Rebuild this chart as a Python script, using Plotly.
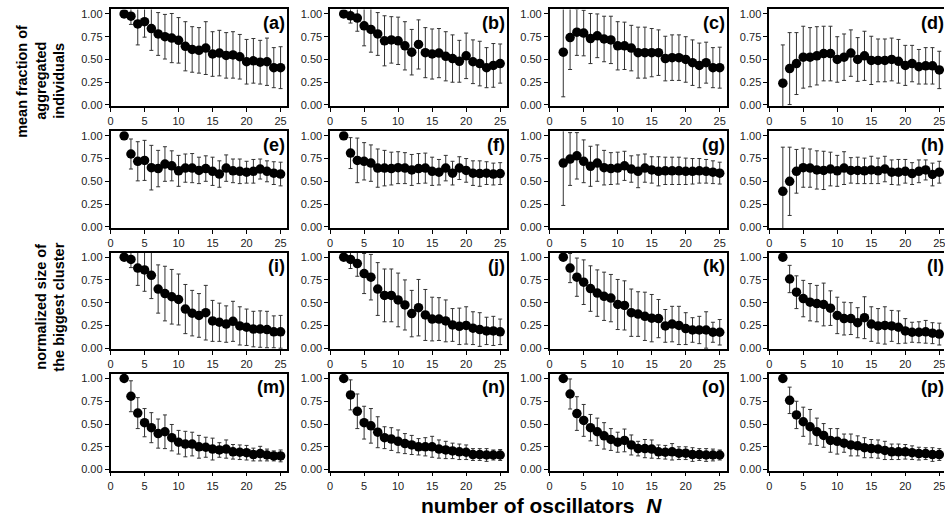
import plotly.graph_objects as go

N = list(range(2, 26))
x_ticks = [0, 5, 10, 15, 20, 25]
x_tick_labels = ["0", "5", "10", "15", "20", "25"]
y_ticks = [0, 0.25, 0.5, 0.75, 1.0]
y_tick_labels = ["0.00", "0.25", "0.50", "0.75", "1.00"]
panel_labels = ["(a)", "(b)", "(c)", "(d)", "(e)", "(f)", "(g)", "(h)",
                "(i)", "(j)", "(k)", "(l)", "(m)", "(n)", "(o)", "(p)"]
title_top_lines = ["mean fraction of", "aggregated", "individuals"]
title_bottom_lines = ["normalized size of", "the biggest cluster"]
x_title = "number of oscillators  <i>N</i>"

a_y = [1.00,0.975,0.89,0.915,0.84,0.78,0.75,0.735,0.71,0.645,0.61,0.60,0.625,0.56,0.57,0.545,0.55,0.53,0.475,0.485,0.47,0.475,0.41,0.41]
a_e = [0,0.09,0.23,0.17,0.24,0.235,0.245,0.27,0.25,0.27,0.25,0.25,0.29,0.245,0.25,0.25,0.255,0.245,0.245,0.245,0.24,0.26,0.22,0.23]
b_y = [1.00,0.98,0.955,0.87,0.83,0.78,0.705,0.715,0.705,0.65,0.58,0.665,0.575,0.56,0.57,0.535,0.51,0.48,0.54,0.475,0.455,0.41,0.435,0.455]
b_e = [0,0.08,0.145,0.22,0.25,0.235,0.275,0.255,0.26,0.265,0.25,0.27,0.275,0.275,0.27,0.27,0.26,0.23,0.25,0.24,0.245,0.22,0.24,0.215]
c_y = [0.58,0.74,0.80,0.79,0.73,0.76,0.725,0.715,0.65,0.65,0.625,0.575,0.575,0.575,0.575,0.51,0.52,0.52,0.50,0.465,0.435,0.465,0.41,0.41]
c_e = [0.49,0.35,0.255,0.25,0.275,0.24,0.25,0.26,0.265,0.26,0.25,0.28,0.28,0.265,0.25,0.245,0.25,0.25,0.25,0.25,0.245,0.225,0.22,0.225]
d_y = [0.24,0.40,0.455,0.525,0.525,0.54,0.565,0.565,0.50,0.525,0.57,0.50,0.54,0.49,0.49,0.49,0.50,0.48,0.435,0.455,0.42,0.43,0.43,0.385]
d_e = [0.42,0.395,0.34,0.34,0.325,0.32,0.30,0.30,0.25,0.255,0.255,0.24,0.27,0.265,0.235,0.235,0.235,0.24,0.22,0.20,0.19,0.20,0.20,0.205]
e_y = [1.00,0.80,0.72,0.73,0.65,0.64,0.69,0.67,0.615,0.645,0.645,0.62,0.64,0.61,0.58,0.645,0.615,0.61,0.60,0.61,0.635,0.61,0.59,0.58]
e_e = [0,0.165,0.215,0.22,0.245,0.20,0.19,0.165,0.17,0.155,0.16,0.145,0.14,0.155,0.145,0.145,0.13,0.135,0.12,0.13,0.11,0.115,0.125,0.13]
f_y = [1.00,0.81,0.73,0.72,0.70,0.645,0.645,0.64,0.65,0.645,0.625,0.64,0.645,0.61,0.60,0.645,0.59,0.645,0.62,0.59,0.585,0.59,0.58,0.585]
f_e = [0,0.17,0.245,0.205,0.20,0.21,0.195,0.18,0.175,0.17,0.17,0.165,0.165,0.155,0.14,0.14,0.13,0.125,0.13,0.135,0.14,0.125,0.12,0.12]
g_y = [0.70,0.745,0.78,0.72,0.665,0.70,0.65,0.64,0.645,0.67,0.635,0.61,0.645,0.625,0.61,0.615,0.615,0.615,0.61,0.61,0.615,0.61,0.60,0.59]
g_e = [0.465,0.29,0.255,0.235,0.22,0.20,0.19,0.175,0.175,0.16,0.145,0.18,0.155,0.145,0.16,0.15,0.15,0.15,0.145,0.14,0.135,0.13,0.125,0.12]
h_y = [0.39,0.50,0.61,0.65,0.645,0.625,0.62,0.635,0.615,0.645,0.62,0.62,0.615,0.625,0.615,0.635,0.60,0.60,0.61,0.585,0.61,0.625,0.575,0.60]
h_e = [0.485,0.375,0.24,0.215,0.21,0.21,0.21,0.185,0.17,0.18,0.14,0.145,0.14,0.15,0.14,0.14,0.135,0.14,0.13,0.12,0.125,0.11,0.125,0.12]
i_y = [1.00,0.975,0.88,0.86,0.80,0.65,0.60,0.565,0.535,0.43,0.385,0.36,0.39,0.30,0.285,0.265,0.295,0.245,0.23,0.21,0.21,0.205,0.18,0.18]
i_e = [0,0.09,0.19,0.235,0.255,0.265,0.30,0.30,0.28,0.27,0.25,0.24,0.30,0.225,0.21,0.20,0.22,0.21,0.20,0.195,0.20,0.20,0.175,0.18]
j_y = [1.00,0.975,0.93,0.82,0.78,0.65,0.58,0.58,0.53,0.475,0.38,0.445,0.365,0.32,0.32,0.30,0.255,0.24,0.25,0.22,0.205,0.19,0.19,0.18]
j_e = [0,0.10,0.14,0.22,0.25,0.29,0.29,0.29,0.295,0.275,0.255,0.31,0.28,0.24,0.235,0.23,0.18,0.20,0.205,0.18,0.185,0.15,0.16,0.14]
k_y = [1.00,0.88,0.78,0.725,0.655,0.605,0.57,0.55,0.48,0.47,0.39,0.375,0.35,0.33,0.325,0.245,0.265,0.25,0.215,0.20,0.20,0.20,0.175,0.175]
k_e = [0,0.16,0.21,0.245,0.25,0.255,0.265,0.26,0.275,0.27,0.26,0.245,0.265,0.26,0.21,0.18,0.195,0.21,0.175,0.135,0.15,0.20,0.11,0.14]
l_y = [1.00,0.76,0.615,0.545,0.505,0.49,0.48,0.44,0.36,0.325,0.325,0.28,0.335,0.265,0.245,0.25,0.245,0.23,0.19,0.175,0.175,0.18,0.165,0.155]
l_e = [0,0.15,0.18,0.20,0.205,0.20,0.235,0.19,0.20,0.18,0.175,0.165,0.23,0.19,0.19,0.205,0.17,0.18,0.135,0.11,0.115,0.125,0.115,0.12]
m_y = [1.00,0.805,0.62,0.515,0.46,0.395,0.415,0.35,0.30,0.28,0.28,0.25,0.245,0.225,0.215,0.225,0.195,0.19,0.185,0.165,0.175,0.16,0.15,0.15]
m_e = [0,0.17,0.17,0.155,0.165,0.16,0.185,0.145,0.13,0.14,0.13,0.125,0.11,0.12,0.08,0.10,0.08,0.08,0.08,0.07,0.08,0.065,0.055,0.065]
n_y = [1.00,0.82,0.64,0.515,0.48,0.41,0.35,0.335,0.31,0.285,0.27,0.25,0.25,0.25,0.225,0.215,0.205,0.195,0.19,0.165,0.165,0.16,0.16,0.16]
n_e = [0,0.165,0.19,0.18,0.19,0.17,0.12,0.125,0.125,0.11,0.105,0.09,0.10,0.115,0.10,0.095,0.085,0.085,0.08,0.065,0.065,0.07,0.055,0.06]
o_y = [1.00,0.83,0.615,0.54,0.46,0.415,0.37,0.33,0.30,0.32,0.27,0.23,0.23,0.225,0.195,0.19,0.195,0.18,0.18,0.165,0.165,0.16,0.16,0.16]
o_e = [0,0.165,0.185,0.175,0.145,0.15,0.145,0.12,0.11,0.125,0.11,0.08,0.10,0.10,0.075,0.075,0.09,0.07,0.07,0.075,0.065,0.07,0.065,0.055]
p_y = [1.00,0.76,0.60,0.525,0.47,0.415,0.375,0.32,0.31,0.29,0.27,0.26,0.24,0.23,0.225,0.21,0.195,0.195,0.195,0.185,0.175,0.175,0.165,0.165]
p_e = [0,0.145,0.15,0.16,0.19,0.15,0.13,0.13,0.14,0.10,0.12,0.11,0.11,0.10,0.10,0.10,0.085,0.085,0.08,0.075,0.07,0.065,0.075,0.065]

means = [a_y, b_y, c_y, d_y, e_y, f_y, g_y, h_y, i_y, j_y, k_y, l_y, m_y, n_y, o_y, p_y]
stds = [a_e, b_e, c_e, d_e, e_e, f_e, g_e, h_e, i_e, j_e, k_e, l_e, m_e, n_e, o_e, p_e]

W, H = 945, 523
col_left = [108, 328.5, 549, 769.5]
panel_w = 177.6
row_top = [7.5, 131, 254, 377]
panel_h = 98
X_MAX = 26.0
Y_RANGE = [-0.012, 1.05]

FONT = "Liberation Sans, Arial, sans-serif"

fig = go.Figure()
layout = dict(width=W, height=H, margin=dict(l=0, r=0, t=0, b=0),
              paper_bgcolor="white", plot_bgcolor="white", showlegend=False)
annotations = []

for idx in range(16):
    r, c = divmod(idx, 4)
    k = "" if idx == 0 else str(idx + 1)
    x0 = col_left[c]
    x1 = x0 + panel_w
    xmax = X_MAX
    label_x = 1.0
    if x1 > W:
        label_x = panel_w / (W - x0)
        xmax = X_MAX * (W - x0) / panel_w
        x1 = W
    y_top = row_top[r]
    y_bot = y_top + panel_h
    fig.add_trace(go.Scatter(
        x=N, y=means[idx], mode="markers",
        marker=dict(color="black", size=9.5),
        error_y=dict(type="data", array=stds[idx], visible=True,
                     color="#333333", thickness=1, width=2),
        xaxis="x" + k, yaxis="y" + k, cliponaxis=True))
    layout["xaxis" + k] = dict(
        domain=[x0 / W, x1 / W], range=[0, xmax], anchor="y" + k,
        tickvals=x_ticks, ticktext=x_tick_labels, ticks="outside", ticklen=4,
        tickcolor="black", showline=True, linecolor="black", linewidth=1.5,
        mirror=True, showgrid=False, zeroline=False, ticklabeloverflow="allow",
        tickfont=dict(family=FONT, size=11, color="#222"))
    layout["yaxis" + k] = dict(
        domain=[1 - y_bot / H, 1 - y_top / H], range=Y_RANGE, anchor="x" + k,
        tickvals=y_ticks, ticktext=y_tick_labels, ticks="outside", ticklen=4,
        tickcolor="black", showline=True, linecolor="black", linewidth=1.5,
        mirror=(c != 3), showgrid=False, zeroline=False,
        tickfont=dict(family=FONT, size=11, color="#222"))
    annotations.append(dict(
        text="<b>" + panel_labels[idx] + "</b>", xref="x" + k + " domain",
        yref="y" + k + " domain", x=label_x, y=0.86, xanchor="right",
        yanchor="middle", showarrow=False,
        font=dict(family=FONT, size=18, color="black")))

# y-axis titles, one annotation per line
for line, xc in zip(title_top_lines, [19, 38, 56]):
    annotations.append(dict(
        text="<b>" + line + "</b>", xref="paper", yref="paper",
        x=xc / W, y=1 - 80 / H, textangle=-90, xanchor="center",
        yanchor="middle", showarrow=False,
        font=dict(family=FONT, size=14.5, color="black")))
for line, xc in zip(title_bottom_lines, [38, 56]):
    annotations.append(dict(
        text="<b>" + line + "</b>", xref="paper", yref="paper",
        x=xc / W, y=1 - 309 / H, textangle=-90, xanchor="center",
        yanchor="middle", showarrow=False,
        font=dict(family=FONT, size=14.5, color="black")))
annotations.append(dict(
    text="<b>" + x_title + "</b>",
    xref="paper", yref="paper", x=541 / W, y=1 - 510 / H,
    xanchor="center", yanchor="middle", showarrow=False,
    font=dict(family=FONT, size=21, color="black")))

layout["annotations"] = annotations
fig.update_layout(**layout)
fig.write_html("out.html")
